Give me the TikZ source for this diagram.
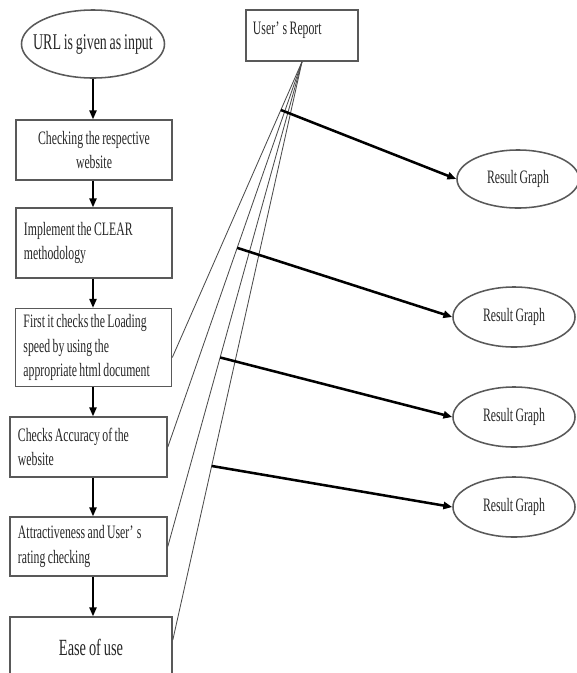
\documentclass[tikz,border=0pt]{standalone}
\usepackage{fontspec}
\setmainfont{Liberation Serif}[FakeStretch=0.62, WordSpace=0.8]
\usetikzlibrary{arrows.meta,calc,shapes.geometric}

\begin{document}
\begin{tikzpicture}[
      x=0.025cm, y=-0.025cm,
      font=\fontsize{13.5}{17.5}\selectfont,
      text=black!85,
      box/.style={draw=black!65, line width=1.1pt, inner xsep=0.2cm, inner ysep=2pt},
      lbox/.style={box, text width=3.5cm, align=flush left},
      oval/.style={draw=black!65, line width=1.1pt, ellipse, inner sep=0pt},
      flow/.style={-{Triangle[length=2.2mm,width=1.8mm]}, line width=1.2pt},
      result/.style={-{Triangle[length=2.2mm,width=1.8mm]}, line width=1.8pt},
      fan/.style={black!70, line width=0.6pt},
    ]
      \useasboundingbox (0,0) rectangle (577,673);
      % checking steps
      \node[oval, minimum width=3.575cm, minimum height=1.7cm, inner xsep=-9pt, font=\fontsize{16}{18}\selectfont] (url) at (93,44) {URL is given as input};
      \node[box, text width=3.5cm, align=flush center, minimum height=1.5cm] (chk) at (94,150) {Checking the respective\\website};
      \node[lbox, minimum height=1.75cm] (clear) at (94,243) {Implement the CLEAR\\methodology};
      \node[lbox, minimum height=1.95cm] (load) at (93.5,347.5) {First it checks the Loading\\speed by using the\\appropriate html document};
      \node[lbox, text width=3.525cm, minimum height=1.5cm] (acc) at (88.5,447) {Checks Accuracy of the\\website};
      \node[lbox, text width=3.525cm, minimum height=1.475cm] (attr) at (88.5,546.5) {Attractiveness and User'\,s\\rating checking};
      \node[box, minimum width=4.05cm, minimum height=1.5cm, font=\fontsize{16.5}{18}\selectfont] (ease) at (91,647) {Ease of use};
      \foreach \a/\b in {url/chk, chk/clear, clear/load, load/acc, acc/attr, attr/ease}
        \draw[flow] (\a.south -| url) -- (\b.north -| url);
      % report and graphs
      \node[box, text width=2.45cm, inner xsep=0.175cm, align=flush left, minimum height=1.275cm, font=\fontsize{13.5}{15}\selectfont] (rep) at (302,35.5) {\raisebox{3.5mm}{User'\,s Report}};
      \coordinate (e3) at ($(load.east)+(0,10)$);
      \coordinate (e4) at (acc.east);
      \coordinate (e5) at (attr.east);
      \coordinate (e6) at ($(ease.east)+(0,-7)$);
      \foreach \e in {e3,e4,e5,e6}
        \draw[fan] (rep.south) -- (\e);
      \node[oval, minimum width=3.05cm, minimum height=1.45cm, font=\fontsize{13.5}{15}\selectfont] (res1) at (518,179) {Result Graph};
      \node[oval, minimum width=3.05cm, minimum height=1.5cm, font=\fontsize{13.5}{15}\selectfont] (res2) at (514,317) {Result Graph};
      \node[oval, minimum width=3.05cm, minimum height=1.5cm, font=\fontsize{13.5}{15}\selectfont] (res3) at (514,417) {Result Graph};
      \node[oval, minimum width=3.05cm, minimum height=1.5cm, font=\fontsize{13.5}{15}\selectfont] (res4) at (514,507) {Result Graph};
      \coordinate (s1) at ($(rep.south)!0.163!(e3)$);
      \coordinate (s2) at ($(rep.south)!0.483!(e4)$);
      \coordinate (s3) at ($(rep.south)!0.61!(e5)$);
      \coordinate (s4) at ($(rep.south)!0.699!(e6)$);
      \foreach \i in {1,...,4}
        \draw[result] (s\i) -- (res\i.west);
    \end{tikzpicture}
\end{document}
